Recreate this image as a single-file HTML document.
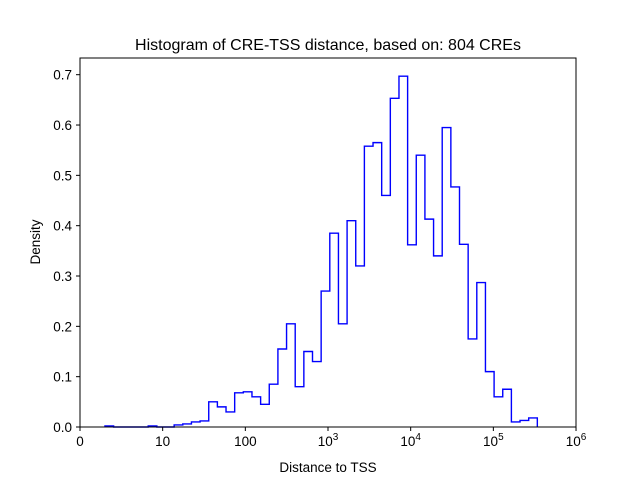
<!DOCTYPE html>
<html><head><meta charset="utf-8"><style>body{margin:0;background:#fff}svg{display:block;font-family:"Liberation Sans","DejaVu Sans",sans-serif}</style></head>
<body>
<svg id="chart" width="640" height="480" viewBox="0 0 640 480" xmlns="http://www.w3.org/2000/svg">
<rect width="640" height="480" fill="#fff"/>
<text x="328" y="50" font-size="16" text-anchor="middle">Histogram of CRE-TSS distance, based on: 804 CREs</text>
<g id="plot"></g>
<rect x="80" y="58" width="496" height="369" fill="none" stroke="#000" stroke-width="1"/>
<text x="328" y="472" font-size="13.5" text-anchor="middle">Distance to TSS</text>
<text transform="translate(40,242) rotate(-90)" font-size="13.5" text-anchor="middle">Density</text>
</svg>
<script>
const binStartLog = 0.302;
const binWidthLog = 0.1046;
const densities = [0.002,0,0,0,0,0.002,0,0,0.004,0.006,0.01,0.012,0.05,0.04,0.03,0.068,0.07,0.06,0.045,0.085,0.155,0.205,0.08,0.15,0.13,0.27,0.385,0.205,0.41,0.32,0.558,0.565,0.46,0.653,0.697,0.362,0.54,0.413,0.34,0.595,0.477,0.363,0.175,0.287,0.11,0.06,0.075,0.01,0.013,0.018];
const xTickLogs = [0,1,2,3,4,5,6];
const xTickLabels = ["0","10","100","10|3","10|4","10|5","10|6"];
const yTicks = [0,0.1,0.2,0.3,0.4,0.5,0.6,0.7];
const yTickLabels = ["0.0","0.1","0.2","0.3","0.4","0.5","0.6","0.7"];
const NS="http://www.w3.org/2000/svg";
const xs = l => 80 + l*82.67;
const ys = v => 427 - v*503.3;
const g = document.getElementById('plot');
let d = "M"+xs(binStartLog)+","+ys(0);
densities.forEach((v,i)=>{
  const a=xs(binStartLog+i*binWidthLog), b=xs(binStartLog+(i+1)*binWidthLog);
  d += " L"+a+","+ys(v)+" L"+b+","+ys(v);
});
d += " L"+xs(binStartLog+densities.length*binWidthLog)+","+ys(0);
const p=document.createElementNS(NS,'path');
p.setAttribute('d',d);p.setAttribute('fill','none');p.setAttribute('stroke','#0000ff');p.setAttribute('stroke-width','1.4');


g.appendChild(p);
xTickLogs.forEach((l,i)=>{
  const x=xs(l);
  const t=document.createElementNS(NS,'line');
  t.setAttribute('x1',x);t.setAttribute('x2',x);t.setAttribute('y1',427);t.setAttribute('y2',431);t.setAttribute('stroke','#000');
  
  
  g.appendChild(t);
  const tx=document.createElementNS(NS,'text');
  tx.setAttribute('x',x);tx.setAttribute('y',446);tx.setAttribute('font-size','13.5');tx.setAttribute('text-anchor','middle');
  const parts=xTickLabels[i].split('|');
  tx.textContent=parts[0];
  if(parts[1]){const s=document.createElementNS(NS,'tspan');s.setAttribute('dy','-6');s.setAttribute('font-size','10');s.textContent=parts[1];tx.appendChild(s);}
  
  
  g.appendChild(tx);
});
yTicks.forEach((v,i)=>{
  const y=ys(v);
  const t=document.createElementNS(NS,'line');
  t.setAttribute('x1',76);t.setAttribute('x2',80);t.setAttribute('y1',y);t.setAttribute('y2',y);t.setAttribute('stroke','#000');
  
  
  g.appendChild(t);
  const tx=document.createElementNS(NS,'text');
  tx.setAttribute('x',72);tx.setAttribute('y',y+5);tx.setAttribute('font-size','13.5');tx.setAttribute('text-anchor','end');
  tx.textContent=yTickLabels[i];
  
  
  g.appendChild(tx);
});
</script>
</body></html>
